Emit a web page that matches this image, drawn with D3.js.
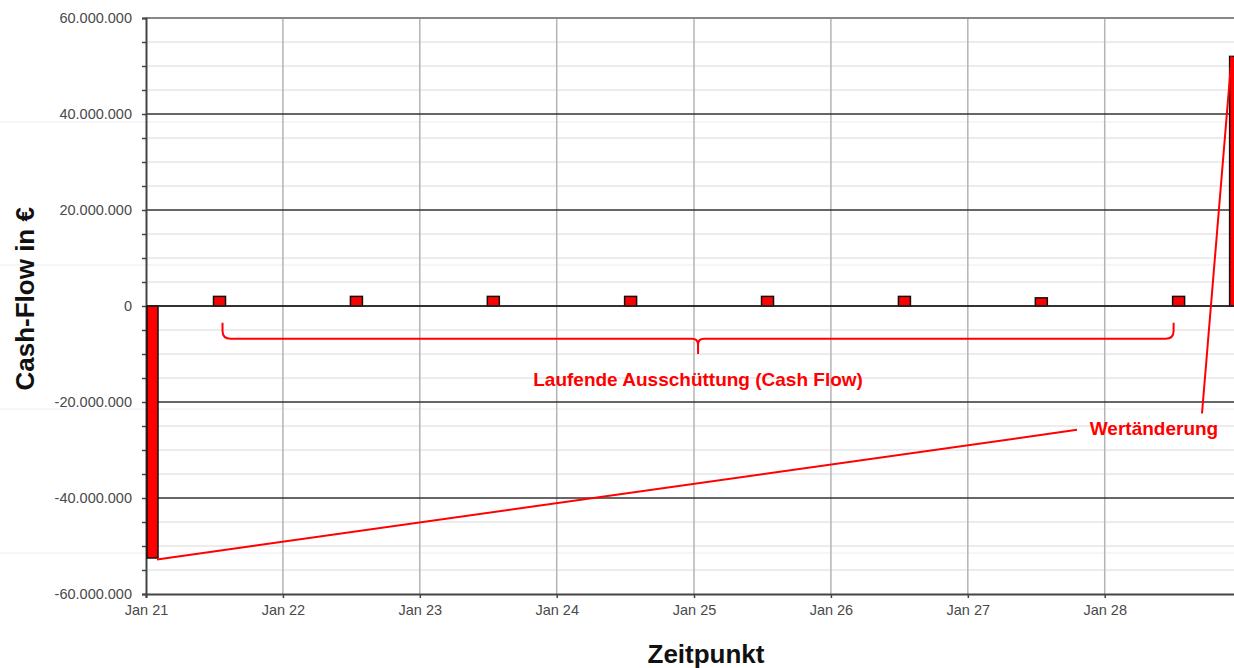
<!DOCTYPE html>
<head>
  <meta charset="utf-8">
  <title>Cash-Flow</title>
  <script src="https://d3js.org/d3.v7.min.js"></script>
  <style type="text/css">
    body { margin: 0; background: #fff; }
    svg { font-family: "Liberation Sans", Arial, sans-serif; display: block; }
    .tick text { fill: #4a4a4a; font-size: 14.5px; }
    .anno { fill: #ff0000; font-weight: bold; font-size: 19px; }
    .axis-title { fill: #111; font-weight: bold; font-size: 26px; }
  </style>
</head>
<body>
<div id="graph-container"></div>
<script>
// =================== Data ======================
const flowDates  = ["2021-01-15", "2021-07-16", "2022-07-16", "2023-07-16", "2024-07-16",
                    "2025-07-16", "2026-07-16", "2027-07-16", "2028-07-16", "2028-12-15"];
const flowValues = [-52500000, 2000000, 2000000, 2000000, 2000000,
                    2000000, 2000000, 1700000, 2000000, 52000000];
const yTicks = [-60000000, -40000000, -20000000, 0, 20000000, 40000000, 60000000];
const xTickYears = [2021, 2022, 2023, 2024, 2025, 2026, 2027, 2028];

const labelRunning = "Laufende Ausschüttung (Cash Flow)";
const labelValue = "Wertänderung";

// =================== Chart Prep ======================
let width = 1234, height = 668,
    margin = { top: 18, right: 0, bottom: 74, left: 146 };

const parse = d3.timeParse("%Y-%m-%d");
const flows = flowDates.map((d, i) => ({ date: parse(d), value: flowValues[i] }));

const x = d3.scaleTime()
    .domain([new Date(2021, 0, 1), new Date(2029, 0, 1)])
    .range([margin.left, margin.left + 8 * 137]);
const y = d3.scaleLinear()
    .domain([-60000000, 60000000])
    .range([height - margin.bottom, margin.top]);

const de = d3.formatLocale({ decimal: ",", thousands: ".", grouping: [3], currency: ["", " €"], minus: "-" });
const fmt = de.format(",.0f");

const svg = d3.select("#graph-container").append("svg")
    .attr("width", width)
    .attr("height", height);

// faint screenshot bands
[122, 265, 409, 553].forEach(v => {
  svg.append("line").attr("x1", 0).attr("x2", width).attr("y1", v).attr("y2", v)
    .attr("stroke", "#e6eef8").attr("stroke-width", 1);
});

svg.append("clipPath").attr("id", "plot-clip")
  .append("rect")
    .attr("x", margin.left).attr("y", 0)
    .attr("width", width - margin.left).attr("height", height);

// minor horizontal grid every 5 Mio
const minor = d3.range(-60000000, 60000001, 5000000).filter(v => v % 20000000 !== 0);
svg.append("g").selectAll("line")
  .data(minor)
  .enter().append("line")
    .attr("x1", margin.left).attr("x2", width)
    .attr("y1", d => y(d)).attr("y2", d => y(d))
    .attr("stroke", "#e6e6e6").attr("stroke-width", 1.5);

// vertical grid at year ticks
const xTickDates = xTickYears.map(yy => new Date(yy, 0, 1));
svg.append("g").selectAll("line")
  .data(xTickDates.slice(1))
  .enter().append("line")
    .attr("x1", d => x(d)).attr("x2", d => x(d))
    .attr("y1", y(60000000)).attr("y2", y(-60000000))
    .attr("stroke", "#b4b4b4").attr("stroke-width", 1.5);

// major horizontal grid
svg.append("g").selectAll("line")
  .data(yTicks.filter(v => Math.abs(v) < 60000000))
  .enter().append("line")
    .attr("x1", margin.left).attr("x2", width)
    .attr("y1", d => y(d)).attr("y2", d => y(d))
    .attr("stroke", "#333").attr("stroke-width", 1.6);

// top border
svg.append("line")
  .attr("x1", margin.left).attr("x2", width)
  .attr("y1", y(60000000)).attr("y2", y(60000000))
  .attr("stroke", "#888").attr("stroke-width", 1.8);

// y axis
const yAxis = d3.axisLeft(y)
    .tickValues(d3.range(-60000000, 60000001, 5000000))
    .tickSize(4)
    .tickFormat(d => yTicks.includes(d) ? fmt(d) : "");
const gy = svg.append("g")
    .attr("transform", "translate(" + margin.left + ",0)")
    .call(yAxis);
gy.select(".domain").attr("stroke", "#444").attr("stroke-width", 2);
gy.selectAll(".tick line").attr("stroke", "#444").attr("stroke-width", 1.5);
gy.selectAll(".tick text").attr("x", -14);

// x axis
const xAxis = d3.axisBottom(x)
    .tickValues(xTickDates)
    .tickSize(4)
    .tickFormat(d3.timeFormat("%b %y"));
const gx = svg.append("g")
    .attr("transform", "translate(0," + y(-60000000) + ")")
    .call(xAxis);
gx.select(".domain").attr("stroke", "#444").attr("stroke-width", 2);
gx.selectAll(".tick line").attr("stroke", "#444").attr("stroke-width", 1.5);
gx.selectAll(".tick text").attr("dy", "0.95em");

// bars
const barW = 12;
svg.append("g")
    .attr("clip-path", "url(#plot-clip)")
  .selectAll("rect")
  .data(flows)
  .enter().append("rect")
    .attr("x", (d, i) => i === 0 ? margin.left + 1 : x(d.date) - barW / 2)
    .attr("width", (d, i) => i === 0 ? barW - 1 : barW)
    .attr("y", d => y(Math.max(0, d.value)))
    .attr("height", d => Math.abs(y(d.value) - y(0)))
    .attr("fill", "#ff0000")
    .attr("stroke", "#111")
    .attr("stroke-width", 1.5);

// zero line on top of bars
svg.append("line")
  .attr("x1", margin.left).attr("x2", width)
  .attr("y1", y(0)).attr("y2", y(0))
  .attr("stroke", "#222").attr("stroke-width", 1.6);

// ---------- annotations ----------
const running = flows.slice(1, -1);
const bx0 = x(running[0].date) + 3,
      bx1 = x(running[running.length - 1].date) - 5,
      bmid = (bx0 + bx1) / 2,
      bTop = y(-3500000), bLine = y(-6800000), bTip = y(-10000000);

svg.append("path")
  .attr("d", "M" + bx0 + "," + bTop +
        " L" + bx0 + "," + (bLine - 8) +
        " Q" + bx0 + "," + bLine + " " + (bx0 + 8) + "," + bLine +
        " L" + (bmid - 6) + "," + bLine +
        " Q" + bmid + "," + bLine + " " + bmid + "," + (bLine + 6) +
        " L" + bmid + "," + bTip +
        " M" + bmid + "," + (bLine + 6) +
        " Q" + bmid + "," + bLine + " " + (bmid + 6) + "," + bLine +
        " L" + (bx1 - 8) + "," + bLine +
        " Q" + bx1 + "," + bLine + " " + bx1 + "," + (bLine - 8) +
        " L" + bx1 + "," + bTop)
  .attr("fill", "none")
  .attr("stroke", "#ff0000")
  .attr("stroke-width", 2);

svg.append("text")
  .attr("class", "anno")
  .attr("x", bmid)
  .attr("y", y(-16600000))
  .attr("text-anchor", "middle")
  .text(labelRunning);

const first = flows[0], last = flows[flows.length - 1];
svg.append("line")
  .attr("x1", 1077).attr("y1", y(-25800000))
  .attr("x2", margin.left + 11).attr("y2", y(first.value - 300000))
  .attr("stroke", "#ff0000").attr("stroke-width", 2);
svg.append("line")
  .attr("x1", 1202).attr("y1", y(-22400000))
  .attr("x2", x(last.date) - 4).attr("y2", y(last.value))
  .attr("stroke", "#ff0000").attr("stroke-width", 2);

svg.append("text")
  .attr("class", "anno")
  .attr("x", 1154)
  .attr("y", y(-26900000))
  .attr("text-anchor", "middle")
  .text(labelValue);

// axis titles
svg.append("text")
  .attr("class", "axis-title")
  .attr("transform", "translate(34," + y(1500000) + ") rotate(-90)")
  .attr("text-anchor", "middle")
  .text("Cash-Flow in €");

svg.append("text")
  .attr("class", "axis-title")
  .attr("x", 706)
  .attr("y", 663)
  .attr("text-anchor", "middle")
  .text("Zeitpunkt");
</script>
</body>
